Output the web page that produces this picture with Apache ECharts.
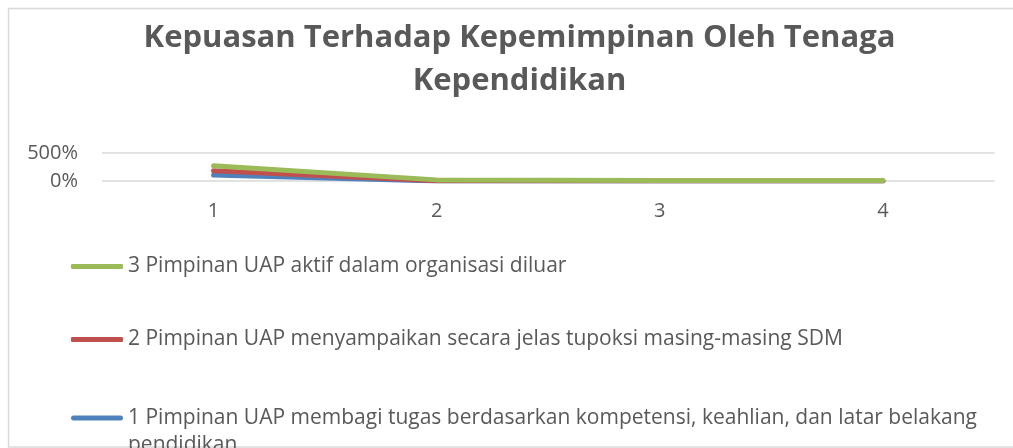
<!DOCTYPE html>
<html lang="id">
<head>
  <meta charset="UTF-8">
  <title>Kepuasan Terhadap Kepemimpinan</title>
  <script src="https://cdn.jsdelivr.net/npm/echarts@6/dist/echarts.min.js"></script>
  <style>
    html, body { margin: 0; padding: 0; background: #fff; }
    #chart { width: 1013px; height: 448px; }
  </style>
</head>
<body>
  <div id="chart"></div>
  <script>
    // data
    var categories = ['1', '2', '3', '4']
    var seriesNames = [
      '1 Pimpinan UAP membagi tugas berdasarkan kompetensi, keahlian, dan latar belakang pendidikan',
      '2 Pimpinan UAP menyampaikan secara jelas tupoksi masing-masing SDM',
      '3 Pimpinan UAP aktif dalam organisasi diluar'
    ]
    // stacked values (1 = 100%)
    var valuesQ1 = [1.07, 0.02, 0, 0]
    var valuesQ2 = [0.77, 0.03, 0, 0]
    var valuesQ3 = [0.89, 0.15, 0.1, 0.1]
    var yTicks = [0, 5]

    var colors = ['#4f81bd', '#c0504d', '#9bbb59']
    var textColor = '#595959'
    var font = 'Open Sans'

    // legend bar sitting on the first text line of a wrapped (2 line) label
    var topBarIcon = 'path://M2.5,0 L49.5,0 A2.5,2.5 0 0 1 49.5,5 L2.5,5 A2.5,2.5 0 0 1 2.5,0 Z M0,32 L0.01,32'

    var chart = echarts.init(document.getElementById('chart'))

    function lineSeries(name, data, color) {
      return {
        name: name,
        type: 'line',
        stack: 'total',
        data: data,
        symbol: 'none',
        color: color,
        lineStyle: { width: 5, color: color, cap: 'round', join: 'round' }
      }
    }

    var legendText = { fontFamily: font, fontSize: 21, color: textColor, lineHeight: 27 }

    var option = {
      animation: false,
      backgroundColor: '#fff',
      textStyle: { fontFamily: font },
      title: {
        text: 'Kepuasan Terhadap Kepemimpinan Oleh Tenaga\nKependidikan',
        left: 514.5,
        top: 12,
        textAlign: 'center',
        textStyle: {
          fontFamily: font,
          fontSize: 31,
          fontWeight: 'bold',
          color: textColor,
          lineHeight: 43
        }
      },
      graphic: [{
        type: 'rect',
        shape: { x: 8.5, y: 8.5, width: 1100, height: 438.5 },
        style: { fill: 'none', stroke: '#d9d9d9', lineWidth: 1.5 },
        silent: true
      }],
      legend: [
        {
          data: [seriesNames[2], seriesNames[1]],
          orient: 'vertical',
          left: 66,
          top: 248,
          itemGap: 46,
          icon: 'roundRect',
          itemWidth: 52,
          itemHeight: 5,
          textStyle: legendText
        },
        {
          data: [seriesNames[0]],
          orient: 'vertical',
          left: 66,
          top: 399.5,
          icon: topBarIcon,
          itemWidth: 52,
          itemHeight: 32,
          textStyle: Object.assign({ width: 860, overflow: 'break' }, legendText)
        }
      ],
      grid: {
        left: 102,
        right: 18.5,
        top: 153,
        bottom: 267,
        containLabel: false
      },
      xAxis: {
        type: 'category',
        data: categories,
        boundaryGap: true,
        axisLine: { show: false },
        axisTick: { show: false },
        axisLabel: { color: textColor, fontFamily: font, fontSize: 20, margin: 20 }
      },
      yAxis: {
        type: 'value',
        min: yTicks[0],
        max: yTicks[yTicks.length - 1],
        interval: yTicks[1] - yTicks[0],
        axisLine: { show: false },
        axisTick: { show: false },
        axisLabel: {
          color: textColor, fontFamily: font, fontSize: 20, margin: 24,
          formatter: function (v) { return Math.round(v * 100) + '%' }
        },
        splitLine: { lineStyle: { color: '#d9d9d9', width: 1.5 } }
      },
      series: [
        lineSeries(seriesNames[0], valuesQ1, colors[0]),
        lineSeries(seriesNames[1], valuesQ2, colors[1]),
        lineSeries(seriesNames[2], valuesQ3, colors[2])
      ]
    }

    chart.setOption(option)
    window.onresize = chart.resize
  </script>
</body>
</html>
